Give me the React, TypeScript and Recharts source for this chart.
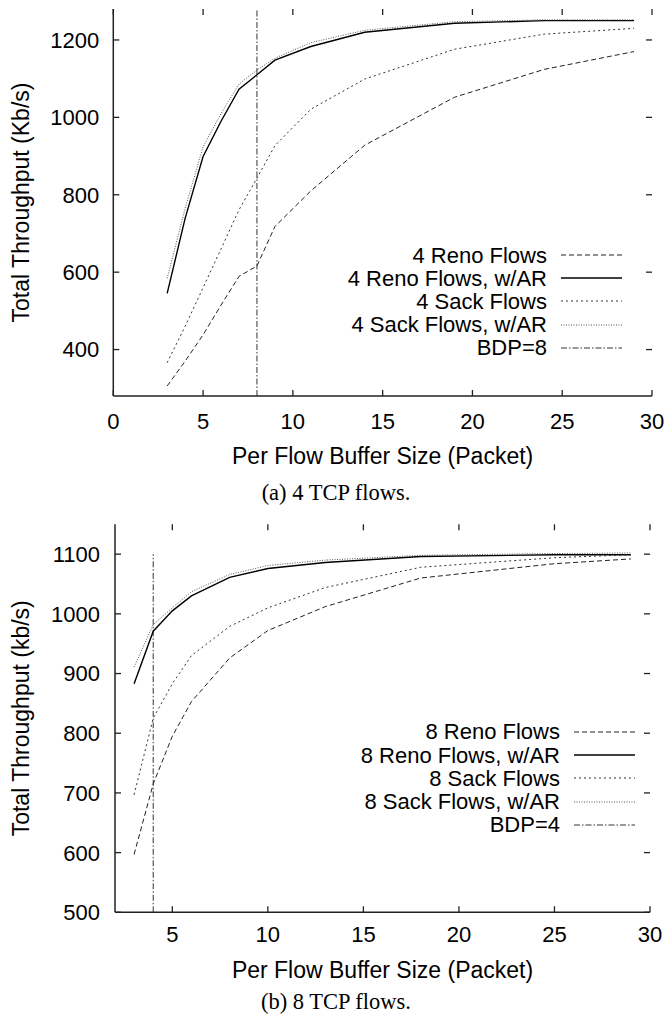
import React from "react";
import { LineChart, Line, XAxis, YAxis, ReferenceLine, Legend, Label } from "recharts";

const sans = "'Liberation Sans', Arial, Helvetica, sans-serif";
const serif = "'Liberation Serif', 'Times New Roman', serif";

// (a) 4 TCP flows
const xA = [3, 4, 5, 6, 7, 8, 9, 11, 14, 19, 24, 29];
const renoA = [306, 370, 438, 515, 589, 616, 718, 810, 928, 1052, 1124, 1170];
const renoArA = [545, 739, 899, 990, 1073, 1110, 1148, 1183, 1220, 1243, 1250, 1250];
const sackA = [366, 460, 560, 660, 761, 843, 927, 1021, 1099, 1176, 1215, 1230];
const sackArA = [584, 765, 924, 1010, 1086, 1122, 1153, 1193, 1225, 1247, 1252, 1252];
const bdpA = 8;
const xTicksA = [0, 5, 10, 15, 20, 25, 30];
const yTicksA = [400, 600, 800, 1000, 1200];

// (b) 8 TCP flows
const xB = [3, 4, 5, 6, 8, 10, 13, 18, 25, 29];
const renoB = [597, 715, 795, 853, 926, 972, 1012, 1060, 1084, 1092];
const renoArB = [883, 971, 1005, 1030, 1061, 1076, 1086, 1096, 1099, 1099];
const sackB = [697, 825, 883, 930, 979, 1010, 1044, 1078, 1094, 1099];
const sackArB = [911, 982, 1010, 1037, 1066, 1081, 1090, 1098, 1101, 1102];
const bdpB = 4;
const bdpTopB = 1100;
const xTicksB = [5, 10, 15, 20, 25, 30];
const yTicksB = [500, 600, 700, 800, 900, 1000, 1100];

const lineStyles = [
  { key: "reno", dash: "5 3", color: "#222", width: 1 },
  { key: "renoAr", dash: undefined, color: "#000", width: 1.4 },
  { key: "sack", dash: "2 3", color: "#333", width: 1 },
  { key: "sackAr", dash: "1 1.5", color: "#555", width: 1 },
];
const bdpStyle = { dash: "6 2 1.5 2", color: "#333", width: 1 };

const TICK_LEN = 6;
const tickStroke = { stroke: "#222", strokeWidth: 1.3 };

const toRows = (xs: number[], reno: number[], renoAr: number[], sack: number[], sackAr: number[]) =>
  xs.map((x, i) => ({ x, reno: reno[i], renoAr: renoAr[i], sack: sack[i], sackAr: sackAr[i] }));

const LegendBox = ({ names, bdpName }: { names: string[]; bdpName: string }) => {
  const rows = [
    ...lineStyles.map((s, i) => ({ name: names[i], dash: s.dash, color: s.color, width: s.width })),
    { name: bdpName, dash: bdpStyle.dash, color: bdpStyle.color, width: bdpStyle.width },
  ];
  return (
    <div style={{ fontFamily: sans, fontSize: 22, color: "#000" }}>
      {rows.map((r) => (
        <div key={r.name} style={{ display: "flex", justifyContent: "flex-end", alignItems: "center", height: 23.2 }}>
          <span style={{ whiteSpace: "nowrap", lineHeight: "23.2px" }}>{r.name}</span>
          <svg width={61} height={8} style={{ marginLeft: 14 }}>
            <line x1={0} x2={61} y1={4} y2={4} stroke={r.color} strokeWidth={r.width} strokeDasharray={r.dash} />
          </svg>
        </div>
      ))}
    </div>
  );
};

// x tick: label plus inward tick marks on the bottom and the mirrored top edge
const XTick = ({ x, y, payload, gap, span }: any) => {
  const ay = y - gap;
  return (
    <g>
      <line x1={x} x2={x} y1={ay} y2={ay - TICK_LEN} {...tickStroke} />
      <line x1={x} x2={x} y1={ay - span} y2={ay - span + TICK_LEN} {...tickStroke} />
      <text x={x} y={y} dy="0.71em" textAnchor="middle" fontFamily={sans} fontSize={22} fill="#000">
        {payload.value}
      </text>
    </g>
  );
};

// y tick: label plus inward tick marks on the left and the mirrored right edge
const YTick = ({ x, y, payload, gap, span }: any) => {
  const ax = x + gap;
  return (
    <g>
      <line x1={ax} x2={ax + TICK_LEN} y1={y} y2={y} {...tickStroke} />
      <line x1={ax + span} x2={ax + span - TICK_LEN} y1={y} y2={y} {...tickStroke} />
      <text x={x} y={y} dy="0.36em" textAnchor="end" fontFamily={sans} fontSize={22} fill="#000">
        {payload.value}
      </text>
    </g>
  );
};

type ChartProps = {
  data: any[];
  height: number;
  top: number;
  plotTop: number;
  plotBottom: number;
  left: number;
  right: number;
  xDomain: number[];
  xTicks: number[];
  yDomain: number[];
  yTicks: number[];
  xTickGap: number;
  yTickGap: number;
  yLabel: string;
  xLabelDrop: number;
  names: string[];
  bdpName: string;
  bdp: number;
  bdpTop?: number;
  legendTop: number;
  legendRight: number;
};

const FlowChart = (p: ChartProps) => {
  const axisStroke = "#222";
  const plotH = p.plotBottom - p.plotTop;
  const plotW = p.right - p.left;
  return (
    <div style={{ position: "absolute", left: 0, top: p.top }}>
      <LineChart
        width={664}
        height={p.height}
        data={p.data}
        margin={{ top: p.plotTop, right: 664 - p.right, bottom: 0, left: 0 }}
      >
        <XAxis
          dataKey="x"
          type="number"
          domain={p.xDomain}
          ticks={p.xTicks}
          allowDataOverflow
          height={p.height - p.plotBottom}
          tickSize={0}
          tickLine={false}
          tickMargin={p.xTickGap}
          tick={<XTick gap={p.xTickGap} span={plotH} />}
          stroke={axisStroke}
          strokeWidth={1.5}
        >
          <Label
            content={({ viewBox }: any) => (
              <text
                x={viewBox.x + viewBox.width / 2}
                y={viewBox.y + p.xLabelDrop}
                textAnchor="middle"
                fontFamily={sans}
                fontSize={23}
                fill="#000"
              >
                Per Flow Buffer Size (Packet)
              </text>
            )}
          />
        </XAxis>
        <XAxis
          xAxisId="top"
          orientation="top"
          type="number"
          domain={p.xDomain}
          allowDataOverflow
          height={0}
          tickLine={false}
          tick={false}
          stroke={axisStroke}
          strokeWidth={1.5}
        />
        <YAxis
          type="number"
          domain={p.yDomain}
          ticks={p.yTicks}
          allowDataOverflow
          width={p.left}
          tickSize={0}
          tickLine={false}
          tickMargin={p.yTickGap}
          tick={<YTick gap={p.yTickGap} span={plotW} />}
          stroke={axisStroke}
          strokeWidth={1.5}
        >
          <Label
            content={({ viewBox }: any) => {
              const cy = viewBox.y + viewBox.height / 2;
              return (
                <text
                  x={29}
                  y={cy}
                  transform={`rotate(-90, 29, ${cy})`}
                  textAnchor="middle"
                  fontFamily={sans}
                  fontSize={23}
                  fill="#000"
                >
                  {p.yLabel}
                </text>
              );
            }}
          />
        </YAxis>
        <YAxis
          yAxisId="right"
          orientation="right"
          type="number"
          domain={p.yDomain}
          allowDataOverflow
          width={0}
          tickLine={false}
          tick={false}
          stroke={axisStroke}
          strokeWidth={1.5}
        />
        {p.bdpTop === undefined ? (
          <ReferenceLine x={p.bdp} stroke={bdpStyle.color} strokeWidth={bdpStyle.width} strokeDasharray={bdpStyle.dash} />
        ) : (
          <ReferenceLine
            segment={[
              { x: p.bdp, y: p.yDomain[0] },
              { x: p.bdp, y: p.bdpTop },
            ]}
            stroke={bdpStyle.color}
            strokeWidth={bdpStyle.width}
            strokeDasharray={bdpStyle.dash}
          />
        )}
        {lineStyles.map((s, i) => (
          <Line
            key={s.key}
            dataKey={s.key}
            name={p.names[i]}
            type="linear"
            stroke={s.color}
            strokeWidth={s.width}
            strokeDasharray={s.dash}
            dot={false}
            isAnimationActive={false}
          />
        ))}
        <Legend
          layout="vertical"
          verticalAlign="middle"
          align="center"
          wrapperStyle={{ position: "absolute", left: p.legendRight - 372, top: p.legendTop, width: 372 }}
          content={() => <LegendBox names={p.names} bdpName={p.bdpName} />}
        />
      </LineChart>
    </div>
  );
};

const Caption = ({ text, y }: { text: string; y: number }) => (
  <div
    style={{
      position: "absolute",
      left: 336 - 150,
      width: 300,
      top: y - 13,
      height: 26,
      lineHeight: "26px",
      textAlign: "center",
      fontFamily: serif,
      fontSize: 22.5,
      color: "#000",
    }}
  >
    {text}
  </div>
);

export default function App() {
  return (
    <div style={{ position: "absolute", left: 0, top: 0, width: 664, height: 1019, background: "#fff" }}>
      <FlowChart
        data={toRows(xA, renoA, renoArA, sackA, sackArA)}
        height={480}
        top={0}
        plotTop={9}
        plotBottom={396}
        left={113.3}
        right={652}
        xDomain={[0, 30]}
        xTicks={xTicksA}
        yDomain={[280, 1280]}
        yTicks={yTicksA}
        xTickGap={17}
        yTickGap={14}
        yLabel="Total Throughput (Kb/s)"
        xLabelDrop={68}
        names={["4 Reno Flows", "4 Reno Flows, w/AR", "4 Sack Flows", "4 Sack Flows, w/AR"]}
        bdpName="BDP=8"
        bdp={bdpA}
        legendTop={243.5}
        legendRight={622}
      />
      <Caption text="(a) 4 TCP flows." y={492.7} />
      <FlowChart
        data={toRows(xB, renoB, renoArB, sackB, sackArB)}
        height={519}
        top={500}
        plotTop={24.3}
        plotBottom={412.3}
        left={115}
        right={650}
        xDomain={[2, 30]}
        xTicks={xTicksB}
        yDomain={[500, 1150]}
        yTicks={yTicksB}
        xTickGap={14.5}
        yTickGap={15}
        yLabel="Total Throughput (kb/s)"
        xLabelDrop={66}
        names={["8 Reno Flows", "8 Reno Flows, w/AR", "8 Sack Flows", "8 Sack Flows, w/AR"]}
        bdpName="BDP=4"
        bdp={bdpB}
        bdpTop={bdpTopB}
        legendTop={232 - 11.6}
        legendRight={635}
      />
      <Caption text="(b) 8 TCP flows." y={1002} />
    </div>
  );
}
